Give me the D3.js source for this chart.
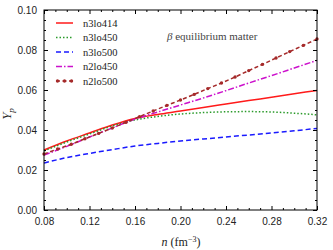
<!DOCTYPE html>
<html>
<head>
<meta charset="utf-8">
<script src="https://cdn.jsdelivr.net/npm/d3@7"></script>
<style>
  body { margin: 0; background: #fff; }
  svg { font-family: "Liberation Serif", "DejaVu Serif", serif; }
</style>
</head>
<body>
<svg id="chart" width="333" height="250"></svg>
<script>
// density grid (fm^-3)
const nGrid = [0.08, 0.10, 0.12, 0.14, 0.16, 0.18, 0.20, 0.22, 0.24, 0.26, 0.28, 0.30, 0.32];
const n3lo414 = [0.0300, 0.0345, 0.0385, 0.0425, 0.0458, 0.0478, 0.0495, 0.0513, 0.0530, 0.0547, 0.0564, 0.0581, 0.0598];
const n3lo450 = [0.0295, 0.0340, 0.0380, 0.0420, 0.0450, 0.0468, 0.0480, 0.0487, 0.0491, 0.0492, 0.0490, 0.0484, 0.0476];
const n3lo500 = [0.0235, 0.0262, 0.0283, 0.0302, 0.0320, 0.0333, 0.0345, 0.0355, 0.0365, 0.0375, 0.0385, 0.0396, 0.0408];
const n2lo450 = [0.0275, 0.0318, 0.0365, 0.0410, 0.0455, 0.0490, 0.0525, 0.0560, 0.0597, 0.0635, 0.0672, 0.0710, 0.0748];
// n2lo500 is drawn with markers, on a finer grid
const nFine = [0.080, 0.092, 0.104, 0.116, 0.128, 0.140, 0.152, 0.164, 0.176, 0.188, 0.200,
               0.212, 0.224, 0.236, 0.248, 0.260, 0.272, 0.284, 0.296, 0.308, 0.320];
const n2lo500 = [0.0280, 0.0305, 0.0329, 0.0356, 0.0383, 0.0410, 0.0438, 0.0467, 0.0495, 0.0523, 0.0550,
                 0.0578, 0.0607, 0.0635, 0.0665, 0.0697, 0.0728, 0.0760, 0.0792, 0.0823, 0.0855];

const xTicks = [0.08, 0.12, 0.16, 0.20, 0.24, 0.28, 0.32];
const yTicks = [0.00, 0.02, 0.04, 0.06, 0.08, 0.10];

const series = [
  { name: "n3lo414", x: nGrid, y: n3lo414, color: "#ff1a1a", dash: null },
  { name: "n3lo450", x: nGrid, y: n3lo450, color: "#2a9a2a", dash: "1.5,2" },
  { name: "n3lo500", x: nGrid, y: n3lo500, color: "#1a1aff", dash: "5,3" },
  { name: "n2lo450", x: nGrid, y: n2lo450, color: "#cc11cc", dash: "6,2,1.5,2" },
  { name: "n2lo500", x: nFine, y: n2lo500, color: "#a52a2a", dash: "4,2.5", dots: true }
];

const margin = { left: 44, right: 16, top: 10, bottom: 40 };
const W = 333, H = 250;
const svg = d3.select("#chart");

const x = d3.scaleLinear().domain([0.08, 0.32]).range([margin.left, W - margin.right]);
const y = d3.scaleLinear().domain([0, 0.10]).range([H - margin.bottom, margin.top]);

// lines
const line = d3.line()
  .x(d => x(d[0]))
  .y(d => y(d[1]))
  .curve(d3.curveMonotoneX);

const plot = svg.append("g");
series.forEach(s => {
  const pts = s.x.map((v, i) => [v, s.y[i]]);
  plot.append("path")
    .attr("d", line(pts))
    .attr("fill", "none")
    .attr("stroke", s.color)
    .attr("stroke-width", 1.5)
    .attr("stroke-dasharray", s.dash);
  if (s.dots) {
    plot.selectAll(null)
      .data(pts)
      .enter()
      .append("circle")
      .attr("cx", d => x(d[0]))
      .attr("cy", d => y(d[1]))
      .attr("r", 1.7)
      .attr("fill", s.color);
  }
});

// axes, ticks inward on all four sides
const fmt = d3.format(".2f");
const xMinor = d3.range(0.08, 0.3201, 0.01).filter(v => !xTicks.some(t => Math.abs(t - v) < 1e-6));
const yMinor = d3.range(0, 0.1001, 0.005).filter(v => !yTicks.some(t => Math.abs(t - v) < 1e-6));

function styleAxis(g) {
  g.select(".domain").remove();
  g.selectAll("line").attr("stroke", "#000").attr("stroke-width", 1);
  g.selectAll("text").attr("font-size", 10).attr("fill", "#222");
}

svg.append("g")
  .attr("transform", `translate(0,${y(0)})`)
  .call(d3.axisBottom(x).tickValues(xTicks).tickFormat(fmt).tickSizeInner(-4).tickPadding(8))
  .call(styleAxis);
svg.append("g")
  .attr("transform", `translate(0,${y(0)})`)
  .call(d3.axisBottom(x).tickValues(xMinor).tickFormat("").tickSizeInner(-2))
  .call(styleAxis);
svg.append("g")
  .attr("transform", `translate(0,${y(0.10)})`)
  .call(d3.axisTop(x).tickValues(xTicks).tickFormat("").tickSizeInner(-4))
  .call(styleAxis);
svg.append("g")
  .attr("transform", `translate(0,${y(0.10)})`)
  .call(d3.axisTop(x).tickValues(xMinor).tickFormat("").tickSizeInner(-2))
  .call(styleAxis);

svg.append("g")
  .attr("transform", `translate(${x(0.08)},0)`)
  .call(d3.axisLeft(y).tickValues(yTicks).tickFormat(fmt).tickSizeInner(-4).tickPadding(7))
  .call(styleAxis);
svg.append("g")
  .attr("transform", `translate(${x(0.08)},0)`)
  .call(d3.axisLeft(y).tickValues(yMinor).tickFormat("").tickSizeInner(-2))
  .call(styleAxis);
svg.append("g")
  .attr("transform", `translate(${x(0.32)},0)`)
  .call(d3.axisRight(y).tickValues(yTicks).tickFormat("").tickSizeInner(-4))
  .call(styleAxis);
svg.append("g")
  .attr("transform", `translate(${x(0.32)},0)`)
  .call(d3.axisRight(y).tickValues(yMinor).tickFormat("").tickSizeInner(-2))
  .call(styleAxis);

// frame
svg.append("rect")
  .attr("x", x(0.08)).attr("y", y(0.10))
  .attr("width", x(0.32) - x(0.08)).attr("height", y(0) - y(0.10))
  .attr("fill", "none").attr("stroke", "#000").attr("stroke-width", 1);

// legend
const legend = svg.append("g").attr("transform", "translate(56,23)");
series.forEach((s, i) => {
  const g = legend.append("g").attr("transform", `translate(0,${i * 14.5})`);
  g.append("line")
    .attr("x1", 0).attr("x2", 17).attr("y1", 0).attr("y2", 0)
    .attr("stroke", s.color).attr("stroke-width", 1.5)
    .attr("stroke-dasharray", s.dash);
  if (s.dots) {
    g.selectAll(null).data([1.5, 8.5, 15.5]).enter().append("circle")
      .attr("cx", d => d).attr("cy", 0).attr("r", 1.7).attr("fill", s.color);
  }
  g.append("text")
    .attr("x", 27).attr("y", 3.5)
    .attr("font-size", 10.5).attr("fill", "#222")
    .text(s.name);
});

// annotation
svg.append("text")
  .attr("x", 167).attr("y", 40)
  .attr("font-size", 11).attr("fill", "#444")
  .html('<tspan font-style="italic">β</tspan> equilibrium matter');

// axis titles
svg.append("text")
  .attr("x", 181).attr("y", 246)
  .attr("text-anchor", "middle")
  .attr("font-size", 12).attr("fill", "#222")
  .html('<tspan font-style="italic">n</tspan> (fm<tspan dy="-4.5" font-size="8">−3</tspan><tspan dy="4.5">)</tspan>');

svg.append("text")
  .attr("transform", `translate(11,${y(0.048)}) rotate(-90)`)
  .attr("text-anchor", "middle")
  .attr("font-size", 13).attr("fill", "#222")
  .html('<tspan font-style="italic">Y</tspan><tspan font-style="italic" dy="3" font-size="9">p</tspan>');
</script>
</body>
</html>
